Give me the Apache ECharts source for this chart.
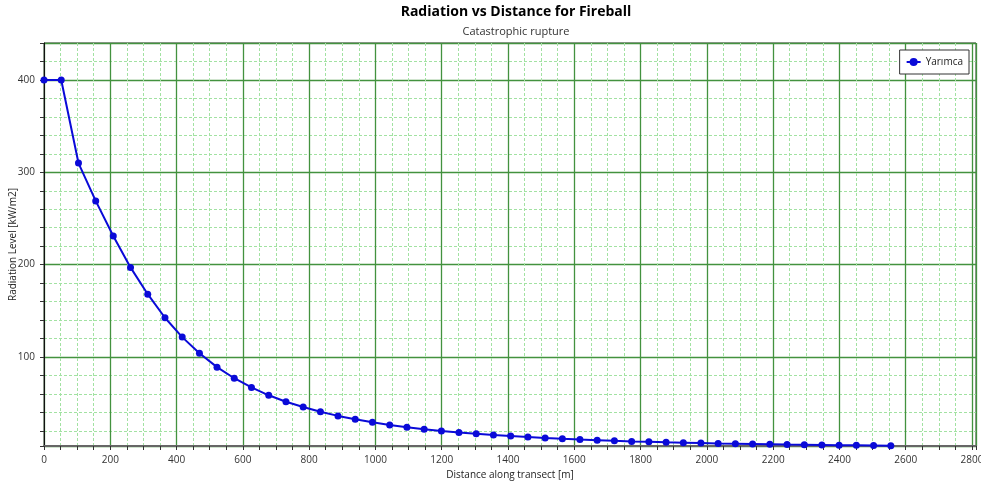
<!DOCTYPE html>
<html>
<head>
<meta charset="utf-8">
<script src="https://cdn.jsdelivr.net/npm/echarts@6/dist/echarts.min.js"></script>
<style>
html,body{margin:0;padding:0;background:#fff;}
#chart{width:981px;height:485px;}
</style>
</head>
<body>
<div id="chart"></div>
<script>
var titleText = 'Radiation vs Distance for Fireball';
var subtitleText = 'Catastrophic rupture';
var seriesName = 'Yarımca';
var xAxisName = 'Distance along transect [m]';
var yAxisName = 'Radiation Level [kW/m2]';

var distances = [0, 52, 104, 156, 209, 261, 313, 365, 417, 469,
  522, 574, 626, 678, 730, 782, 834, 887, 939, 991,
  1043, 1095, 1147, 1199, 1252, 1304, 1356, 1408, 1460, 1512,
  1564, 1617, 1669, 1721, 1773, 1825, 1877, 1929, 1982, 2034,
  2086, 2138, 2190, 2242, 2294, 2347, 2399, 2451, 2503, 2555];
var radiation = [400, 400, 310, 269, 231, 197, 168, 142.5, 121.5, 104,
  89, 77, 67, 58.5, 51.5, 45.8, 40.7, 36.2, 32.5, 29.2,
  26.4, 24, 21.8, 19.9, 18.3, 16.8, 15.5, 14.4, 13.3, 12.3,
  11.4, 10.6, 9.9, 9.2, 8.6, 8.1, 7.6, 7.2, 6.8, 6.4,
  6.1, 5.8, 5.5, 5.2, 5.0, 4.8, 4.5, 4.3, 4.1, 3.9];

var xMin = 0, xMax = 2812, xStep = 200;
var yMin = 3.6, yMax = 440;

var points = distances.map(function (d, i) { return [d, radiation[i]]; });

var chart = echarts.init(document.getElementById('chart'), null, {renderer: 'canvas'});
var font = '"Open Sans", "Noto Sans", sans-serif';
function plain(v) { return String(v); }
chart.setOption({
  animation: false,
  backgroundColor: '#fff',
  title: [{
    text: titleText,
    left: 511, top: 0, textAlign: 'center',
    textStyle: {fontFamily: font, fontSize: 14, fontWeight: 'bold', color: '#000'}
  }, {
    text: subtitleText,
    left: 511, top: 21, textAlign: 'center',
    textStyle: {fontFamily: font, fontSize: 11, fontWeight: 'normal', color: '#333'}
  }],
  legend: {
    right: 12, top: 50,
    orient: 'vertical',
    backgroundColor: '#fff',
    borderColor: '#333', borderWidth: 1, borderRadius: 0,
    padding: [7, 6],
    itemWidth: 14, itemHeight: 10,
    textStyle: {fontFamily: font, fontSize: 10, color: '#222'},
    data: [seriesName]
  },
  grid: {
    left: 44, right: 5, top: 43, bottom: 39,
    show: true, borderColor: '#333', borderWidth: 1,
    containLabel: false,
    outerBoundsMode: 'none'
  },
  xAxis: {
    type: 'value', min: xMin, max: xMax, interval: xStep,
    name: xAxisName, nameLocation: 'middle', nameGap: 24, nameMoveOverlap: false,
    nameTextStyle: {fontFamily: font, fontSize: 10, color: '#222'},
    axisLine: {show: true, onZero: false, lineStyle: {color: '#666', width: 2}},
    axisTick: {show: true, length: 4, lineStyle: {color: '#333'}},
    minorTick: {show: true, splitNumber: 4, length: 4, lineStyle: {color: '#333'}},
    axisLabel: {fontFamily: font, fontSize: 10, color: '#333', margin: 9, showMaxLabel: false, formatter: plain},
    splitLine: {show: true, lineStyle: {color: '#43923f', width: 1.3}},
    minorSplitLine: {show: true, lineStyle: {color: '#a2e2a2', width: 1, type: [3, 2]}}
  },
  yAxis: {
    type: 'value', min: yMin, max: yMax, splitNumber: 5,
    name: yAxisName, nameLocation: 'middle', nameGap: 26, nameRotate: 90, nameMoveOverlap: false,
    nameTextStyle: {fontFamily: font, fontSize: 10, color: '#222'},
    axisLine: {show: true, onZero: false, lineStyle: {color: '#111', width: 1}},
    axisTick: {show: true, length: 4, lineStyle: {color: '#333'}},
    minorTick: {show: true, splitNumber: 5, length: 4, lineStyle: {color: '#333'}},
    axisLabel: {fontFamily: font, fontSize: 10, color: '#333', margin: 9, showMinLabel: false, showMaxLabel: false, formatter: plain},
    splitLine: {show: true, lineStyle: {color: '#43923f', width: 1.3}},
    minorSplitLine: {show: true, lineStyle: {color: '#a2e2a2', width: 1, type: [3, 2]}}
  },
  series: [{
    name: seriesName,
    type: 'line',
    data: points,
    symbol: 'circle', symbolSize: 7,
    lineStyle: {color: '#0a0ad8', width: 2},
    itemStyle: {color: '#0a0ad8'},
    clip: false
  }]
});
</script>
</body>
</html>
